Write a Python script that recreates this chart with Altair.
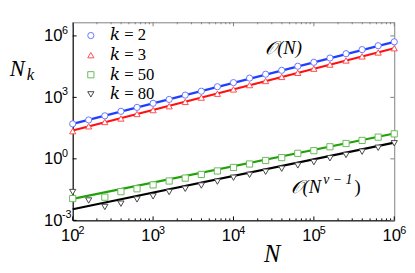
import altair as alt
import pandas as pd

# ---------------- data ----------------
N_pts = [100, 158, 251, 398, 631, 1000, 1585, 2512, 3981, 6310, 10000,
         15849, 25119, 39811, 63096, 100000, 158489, 251189, 398107, 630957, 1000000]
k2_vals = [51, 79, 126, 209, 324, 513, 794, 1290, 2000, 3310, 5250,
           8710, 13500, 20900, 33100, 51300, 83200, 135000, 214000, 331000, 513000]
k3_vals = [22.4, 38.9, 63.1, 93.3, 155, 240, 372, 603, 977, 1510, 2450,
           3980, 6310, 10000, 15800, 25100, 39800, 63100, 100000, 155000, 251000]
k50_vals = [0.0115, None, 0.0135, 0.0251, 0.0347, 0.0537, 0.0832, 0.115, 0.174, 0.257, 0.380,
            0.562, 0.832, 1.15, 1.86, 2.51, 3.89, 5.62, 7.94, 11.5, 16.6]
k80_vals = [0.024, 0.0093, 0.0045, 0.0065, 0.0105, 0.0148, 0.024, 0.0347, 0.0501, 0.0776, 0.120,
            0.166, 0.234, 0.331, 0.479, 0.692, 1.07, 1.55, 2.24, 3.47, 5.75]

fit_N = [100, 1000000]
fit_k2 = [51, 513000]
fit_k3 = [24, 251000]
fit_k50 = [0.0112, 17.4]
fit_k80 = [0.00347, 6.17]

k_names = ["2", "3", "50", "80"]
marker_colors = ["#6677ff", "#ff4d4d", "#66bb55", "#444444"]
line_colors = ["#1f3fff", "#ff1010", "#22a00a", "#000000"]
shapes = ["circle", "triangle-up", "square", "triangle-down"]

x_major = [100, 1000, 10000, 100000, 1000000]
x_exp = ["2", "3", "4", "5", "6"]
x_minor = [200, 300, 400, 500, 600, 700, 800, 900,
           2000, 3000, 4000, 5000, 6000, 7000, 8000, 9000,
           20000, 30000, 40000, 50000, 60000, 70000, 80000, 90000,
           200000, 300000, 400000, 500000, 600000, 700000, 800000, 900000]
y_major = [0.001, 1, 1000, 1000000]
y_exp = ["-3", "0", "3", "6"]

ann_N = [42000]
ann_y = [260000]
ann_text = ["𝒪(N)"]
ann2_N = [120000]
ann2_y = [0.0215]

# ---------------- tables ----------------
rows = []
for name, vals in zip(k_names, [k2_vals, k3_vals, k50_vals, k80_vals]):
    for n, v in zip(N_pts, vals):
        if v is not None:
            rows.append({"N": n, "v": v, "k": name})
pts = pd.DataFrame(rows)

W, H = 328, 202

xs = alt.Scale(type="log", domain=[100, 1000000], nice=False)
ys = alt.Scale(type="log", domain=[0.001, 4600000], nice=False)

xaxis = alt.Axis(values=x_major, labelExpr="'10'",
                 title="N", titleFontSize=25, titleX=203, titleY=42,
                 titleAlign="center", titleBaseline="alphabetic",
                 labelPadding=8, labelOffset=-3, labelFlush=False)
yaxis = alt.Axis(values=y_major, labelExpr="'10'",
                 title="N", titleFontSize=23, titleAngle=0, titleX=-57, titleY=54,
                 titleAlign="center", titleBaseline="alphabetic",
                 labelPadding=11, labelFlush=False)

X = lambda f: alt.X(f, scale=xs, axis=xaxis)
Y = lambda f: alt.Y(f, scale=ys, axis=yaxis)

line_layers = []
for name, vals, col in zip(k_names, [fit_k2, fit_k3, fit_k50, fit_k80], line_colors):
    df = pd.DataFrame({"N": fit_N, "v": vals})
    line_layers.append(
        alt.Chart(df).mark_line(strokeWidth=2.2, color=col).encode(x=X("N:Q"), y=Y("v:Q"))
    )

leg = alt.Legend(orient="none", legendX=10, legendY=5, title=None,
                 labelExpr="'𝑘 = ' + datum.label")

points = alt.Chart(pts).mark_point(filled=False, fill="white", size=40, strokeWidth=1, opacity=1).encode(
    x=X("N:Q"), y=Y("v:Q"),
    color=alt.Color("k:N", scale=alt.Scale(domain=k_names, range=marker_colors), legend=leg),
    shape=alt.Shape("k:N", scale=alt.Scale(domain=k_names, range=shapes), legend=leg),
)

xmaj = pd.DataFrame({"t": x_major, "e": x_exp})
xmin = pd.DataFrame({"t": x_minor})
ymaj = pd.DataFrame({"t": y_major, "e": y_exp})

tick_b = alt.Chart(xmaj).mark_rule(color="black").encode(x=X("t:Q"), y=alt.value(H), y2=alt.value(H - 4))
tick_bm = alt.Chart(xmin).mark_rule(color="black").encode(x=X("t:Q"), y=alt.value(H), y2=alt.value(H - 2))
tick_t = alt.Chart(xmaj).mark_rule(color="#7f7f7f").encode(x=X("t:Q"), y=alt.value(0), y2=alt.value(4))
tick_tm = alt.Chart(xmin).mark_rule(color="#7f7f7f").encode(x=X("t:Q"), y=alt.value(0), y2=alt.value(2))
tick_l = alt.Chart(ymaj).mark_rule(color="black").encode(y=Y("t:Q"), x=alt.value(0), x2=alt.value(4))
tick_r = alt.Chart(ymaj).mark_rule(color="#7f7f7f").encode(y=Y("t:Q"), x=alt.value(W), x2=alt.value(W - 4))

# exponents of the tick labels
xexp = alt.Chart(xmaj).mark_text(
    font="Liberation Sans", fontSize=11, align="left", baseline="alphabetic", color="black", dx=6
).encode(x=X("t:Q"), y=alt.value(H + 14), text="e:N")
yexp = alt.Chart(ymaj).mark_text(
    font="Liberation Sans", fontSize=11, align="left", baseline="alphabetic", color="black", dy=-2
).encode(x=alt.value(-11), y=Y("t:Q"), text="e:N")

ann1 = alt.Chart(pd.DataFrame({"N": ann_N, "v": ann_y, "t": ann_text})).mark_text(
    font="Liberation Serif", fontSize=19, fontStyle="italic", align="center", baseline="middle", color="black"
).encode(x=X("N:Q"), y=Y("v:Q"), text="t:N")

a2 = pd.DataFrame({"N": ann2_N, "v": ann2_y})
ann2a = alt.Chart(a2).mark_text(
    font="Liberation Serif", fontSize=19, fontStyle="italic", align="right", baseline="alphabetic", color="black", dx=1
).encode(x=X("N:Q"), y=Y("v:Q"), text=alt.value("𝒪(N"))
ann2b = alt.Chart(a2).mark_text(
    font="Liberation Serif", fontSize=14, fontStyle="italic", align="left", baseline="alphabetic", color="black", dx=3, dy=-9
).encode(x=X("N:Q"), y=Y("v:Q"), text=alt.value("ν − 1"))
ann2c = alt.Chart(a2).mark_text(
    font="Liberation Serif", fontSize=19, align="left", baseline="alphabetic", color="black", dx=35
).encode(x=X("N:Q"), y=Y("v:Q"), text=alt.value(")"))

sub_k = alt.Chart(a2).mark_text(
    font="Liberation Serif", fontSize=17, fontStyle="italic", align="left", baseline="alphabetic", color="black"
).encode(x=alt.value(-47), y=alt.value(59), text=alt.value("k"))

chart = alt.layer(
    *line_layers, points, tick_b, tick_bm, tick_t, tick_tm, tick_l, tick_r,
    xexp, yexp, ann1, ann2a, ann2b, ann2c, sub_k
).properties(
    width=W, height=H,
    autosize=alt.AutoSizeParams(type="none"),
    padding={"left": 66, "top": 12, "right": 13, "bottom": 45},
).configure_view(
    stroke="#7f7f7f", strokeWidth=1
).configure_axis(
    grid=False, ticks=False, domainColor="black", domainWidth=1,
    labelFont="Liberation Sans", labelFontSize=17, labelColor="black",
    titleFont="Liberation Serif", titleFontStyle="italic", titleFontWeight="normal", titleColor="black",
).configure_legend(
    orient="none", legendX=10, legendY=5, padding=0, rowPadding=2,
    labelFont="Liberation Serif, DejaVu Serif", labelFontSize=17, labelColor="black", labelFontWeight="normal",
    symbolSize=40, symbolStrokeWidth=1, labelOffset=11, symbolFillColor="white",
)

chart.save("out.html", embed_options={"renderer": "svg", "actions": False})
